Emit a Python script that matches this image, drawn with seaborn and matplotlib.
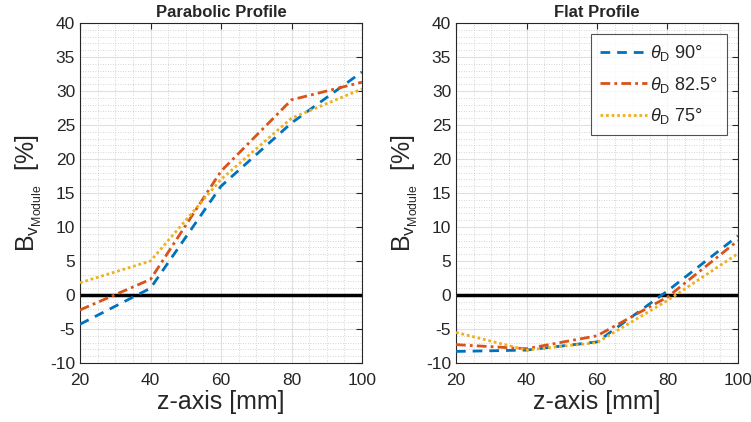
import matplotlib
matplotlib.use("Agg")
import matplotlib.pyplot as plt
import seaborn as sns
import numpy as np
import pandas as pd
from matplotlib.ticker import MultipleLocator

z = [20, 40, 60, 80, 100]
labels = ["90°", "82.5°", "75°"]
parab_90 = [-4.3, 1.0, 16.0, 25.3, 32.8]
parab_825 = [-2.2, 2.3, 18.2, 28.7, 31.3]
parab_75 = [1.8, 5.0, 17.0, 26.0, 30.3]
flat_90 = [-8.3, -8.1, -6.9, 0.6, 8.7]
flat_825 = [-7.3, -7.9, -6.0, -0.3, 8.0]
flat_75 = [-5.5, -8.1, -7.0, -0.8, 6.1]
titles = ["Parabolic Profile", "Flat Profile"]

sns.set_style("white")
plt.rcParams['font.family'] = ['Liberation Sans', 'DejaVu Sans']
plt.rcParams['mathtext.fontset'] = 'custom'
plt.rcParams['mathtext.rm'] = 'Liberation Sans'
plt.rcParams['mathtext.it'] = 'Liberation Sans:italic'
plt.rcParams['mathtext.bf'] = 'Liberation Sans:bold'
plt.rcParams['axes.unicode_minus'] = False

colors = ["#0072BD", "#D95319", "#EDB120"]
styles = [(0, (3.5, 2.5)), (0, (3.5, 1.5, 1, 1.5)), (0, (1, 1))]

fig = plt.figure(figsize=(7.51, 4.22), dpi=100)
ax1 = fig.add_axes([80/751, 1-363/422, 282/751, 340/422])
ax2 = fig.add_axes([456/751, 1-363/422, 282/751, 340/422])

datasets = [[parab_90, parab_825, parab_75], [flat_90, flat_825, flat_75]]
for ax, data, title in zip([ax1, ax2], datasets, titles):
    ax.set_xlim(20, 100)
    ax.set_ylim(-10, 40)
    ax.xaxis.set_major_locator(MultipleLocator(20))
    ax.xaxis.set_minor_locator(MultipleLocator(5))
    ax.yaxis.set_major_locator(MultipleLocator(5))
    ax.yaxis.set_minor_locator(MultipleLocator(1))
    ax.grid(True, which='major', color='#e0e0e0', linewidth=0.8)
    ax.grid(True, which='minor', color='#c8c8c8', linestyle=(0, (1, 2)), linewidth=0.6)
    ax.set_axisbelow(True)
    ax.axhline(0, color='black', linewidth=2.5, zorder=2)
    for vals, lab, c, ls in zip(data, labels, colors, styles):
        df = pd.DataFrame({"z": z, "v": vals})
        sns.lineplot(data=df, x="z", y="v", ax=ax, color=c, linestyle=ls, linewidth=2,
                     label=r"$\theta_{\mathrm{D}}$ " + lab, zorder=3)
    ax.tick_params(which='both', direction='in', top=True, right=True, labelsize=12.5,
                   colors='#262626', length=4)
    ax.tick_params(which='minor', length=0)
    ax.tick_params(axis='x', pad=7)
    for sp in ax.spines.values():
        sp.set_color('#262626')
        sp.set_linewidth(0.8)
    ax.set_title(title, fontsize=12, fontweight='bold', pad=4)
    ax.set_xlabel("z-axis [mm]", fontsize=18, color='#262626', labelpad=2)
    ax.set_ylabel(r"$\mathrm{B}_{\mathrm{v}_{\mathrm{Module}}}$  [%]", fontsize=18, color='#262626', labelpad=4)

ax1.get_legend().remove()
leg = ax2.legend(loc='upper right', fontsize=13, frameon=True, fancybox=False,
                 edgecolor='#262626', handlelength=2.6, borderaxespad=0.6,
                 labelspacing=0.65, handletextpad=0.2, borderpad=0.5)
leg.get_frame().set_linewidth(0.8)

fig.savefig("out.png", dpi=100)
